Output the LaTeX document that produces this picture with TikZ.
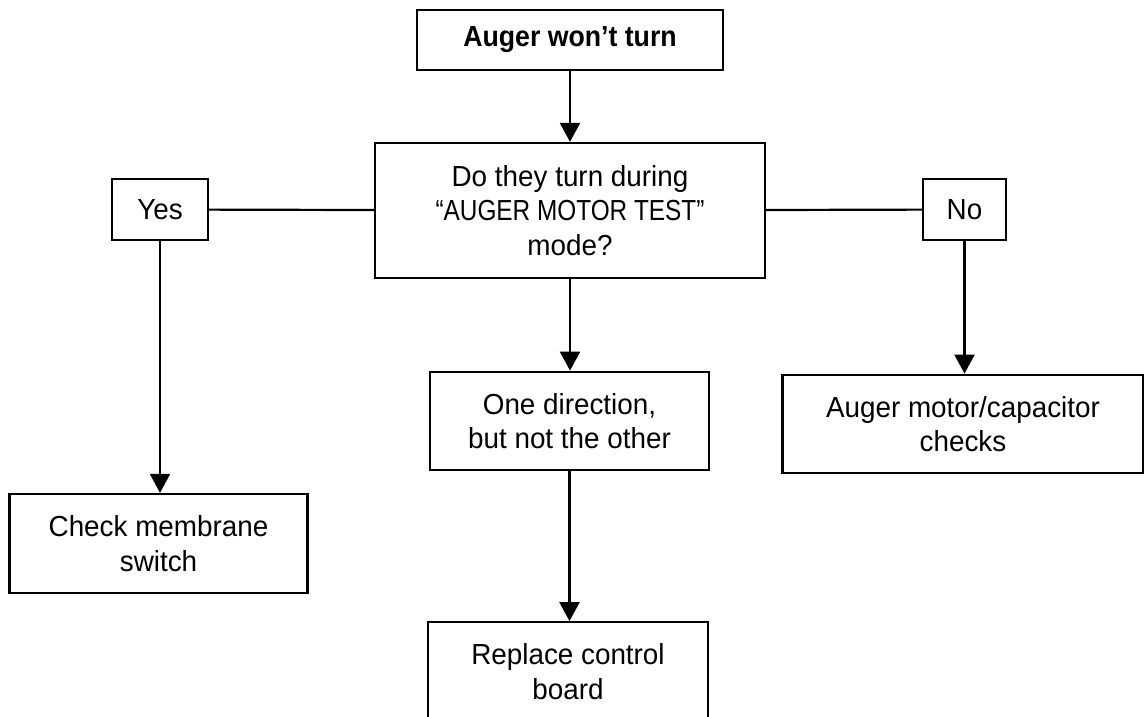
\documentclass[tikz,border=0pt]{standalone}
\usepackage{fontspec}
\setmainfont[FakeStretch=0.96, BoldFeatures={FakeStretch=0.92}]{Liberation Sans}
\newfontfamily\capsfont[FakeStretch=0.84, Ligatures=TeX]{Liberation Sans}
\usetikzlibrary{arrows.meta, positioning}

\begin{document}
\begin{tikzpicture}
\tikzset{
    box/.style={draw, line width=1.3pt, align=center, inner sep=2pt,
        font=\fontsize{16.5}{19.75}\selectfont},
    flow/.style={line width=1.25pt, -{Triangle[width=0.4cm,length=0.38cm]}},
    link/.style={line width=1.25pt}
}
\useasboundingbox (0,0) rectangle (22.88,-14.34);

% Boxes
\node[box, minimum width=6.12cm, minimum height=1.2cm, font=\fontsize{16.5}{19.75}\selectfont\bfseries] (start) at (11.4,-0.8){Auger won’t turn};
\node[box, minimum width=7.8cm, minimum height=2.7cm] (test) at (11.4,-4.21){Do they turn during\\{\capsfont “AUGER MOTOR TEST”}\\mode?};
\node[box, minimum width=1.92cm, minimum height=1.21cm] (yes) at (3.2,-4.19){Yes};
\node[box, minimum width=1.66cm, minimum height=1.21cm] (no) at (19.29,-4.19){No};

\node[box, minimum width=5.96cm, minimum height=1.98cm] (membrane) at (3.17,-10.87){Check membrane\\switch};
\node[box, minimum width=5.59cm, minimum height=1.97cm] (onedir) at (11.39,-8.42){One direction,\\but not the other};
\node[box, minimum width=5.61cm, minimum height=1.97cm] (board) at (11.36,-13.43){Replace control\\board};
\node[box, minimum width=7.22cm, minimum height=1.97cm] (motor) at (19.26,-8.48){Auger motor/capacitor\\checks};

% Connectors
\draw[flow] (start) -- (test);
\draw[link] (yes) -- (test);
\draw[link] (test) -- (no);
\draw[flow] (yes.south) -- (yes.south |- membrane.north);
\draw[flow] (test.south) -- (test.south |- onedir.north);
\draw[flow] (onedir.south) -- (onedir.south |- board.north);
\draw[flow] (no.south) -- (no.south |- motor.north);

\end{tikzpicture}
\end{document}
